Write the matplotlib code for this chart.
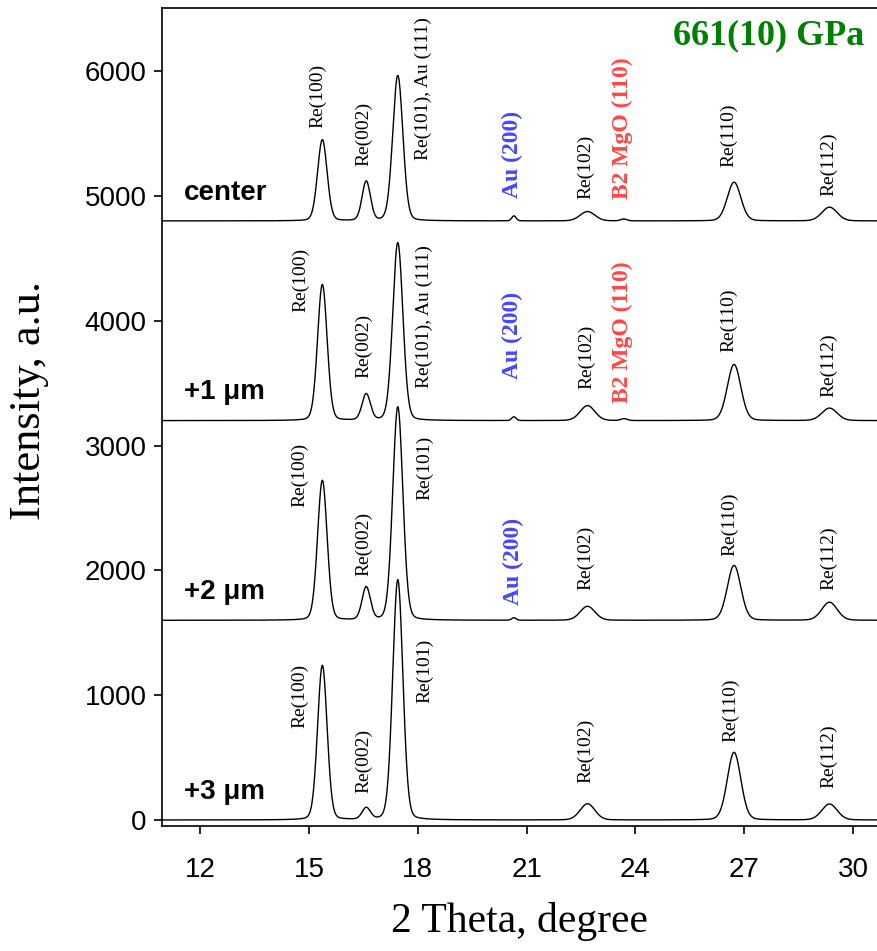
import numpy as np
import matplotlib.pyplot as plt

# peak list (2 theta positions, widths) shared by all four patterns
peak_names = ["Re(100)", "Re(002)", "Re(101)", "Au(200)", "Re(102)",
              "B2 MgO(110)", "Re(110)", "Re(112)"]
peak_pos = [15.37, 16.58, 17.45, 20.65, 22.68, 23.68, 26.72, 29.35]
peak_fwhm = [0.31, 0.27, 0.33, 0.14, 0.48, 0.20, 0.44, 0.50]

# peak heights above baseline
heights_center = [650, 315, 1165, 40, 75, 15, 310, 110]
heights_1um = [1090, 210, 1425, 30, 120, 15, 450, 100]
heights_2um = [1120, 262, 1710, 20, 112, 0, 440, 145]
heights_3um = [1238, 92, 1925, 0, 130, 0, 542, 128]

trace_heights = [heights_center, heights_1um, heights_2um, heights_3um]
trace_offsets = [4800, 3200, 1600, 0]
trace_labels = ["center", "+1 \u03bcm", "+2 \u03bcm", "+3 \u03bcm"]

pressure_label = "661(10) GPa"

x_ticks = [12, 15, 18, 21, 24, 27, 30]
y_ticks = [0, 1000, 2000, 3000, 4000, 5000, 6000]

BLUE = "#4646ff"
RED = "#ff4646"
GREEN = "#008000"

# (text, x, y, color, bold) annotations for the peaks
peak_annotations = [
    # center
    ("Re(100)", 15.25, 5545, "black", False),
    ("Re(002)", 16.50, 5240, "black", False),
    ("Re(101), Au (111)", 18.15, 5290, "black", False),
    ("Au (200)", 20.62, 4985, BLUE, True),
    ("Re(102)", 22.64, 4975, "black", False),
    ("B2 MgO (110)", 23.65, 4975, RED, True),
    ("Re(110)", 26.58, 5230, "black", False),
    ("Re(112)", 29.33, 5000, "black", False),
    # +1 um
    ("Re(100)", 14.78, 4070, "black", False),
    ("Re(002)", 16.50, 3545, "black", False),
    ("Re(101), Au (111)", 18.18, 3465, "black", False),
    ("Au (200)", 20.62, 3530, BLUE, True),
    ("Re(102)", 22.66, 3450, "black", False),
    ("B2 MgO (110)", 23.65, 3340, RED, True),
    ("Re(110)", 26.58, 3750, "black", False),
    ("Re(112)", 29.33, 3390, "black", False),
    # +2 um
    ("Re(100)", 14.76, 2510, "black", False),
    ("Re(002)", 16.50, 1955, "black", False),
    ("Re(101)", 18.18, 2565, "black", False),
    ("Au (200)", 20.65, 1725, BLUE, True),
    ("Re(102)", 22.62, 1845, "black", False),
    ("Re(110)", 26.60, 2115, "black", False),
    ("Re(112)", 29.33, 1845, "black", False),
    # +3 um
    ("Re(100)", 14.74, 737, "black", False),
    ("Re(002)", 16.50, 216, "black", False),
    ("Re(101)", 18.18, 937, "black", False),
    ("Re(102)", 22.64, 296, "black", False),
    ("Re(110)", 26.62, 625, "black", False),
    ("Re(112)", 29.33, 256, "black", False),
]


def pattern(two_theta, heights, offset, eta=0.12):
    y = np.full_like(two_theta, float(offset))
    for pos, fwhm, h in zip(peak_pos, peak_fwhm, heights):
        d = (two_theta - pos) / (fwhm / 2.0)
        gauss = np.exp(-np.log(2) * d ** 2)
        lorentz = 1.0 / (1.0 + d ** 2)
        y += h * ((1 - eta) * gauss + eta * lorentz)
    return y


serif = ["Liberation Serif", "DejaVu Serif"]
sans = ["Liberation Sans", "DejaVu Sans"]

fig = plt.figure(figsize=(8.77, 9.51), dpi=100)
ax = fig.add_axes([162 / 877, 125 / 951, 715 / 877, 818 / 951])

two_theta = np.linspace(10.9, 30.8, 3000)
for heights, offset in zip(trace_heights, trace_offsets):
    ax.plot(two_theta, pattern(two_theta, heights, offset), color="black", linewidth=1.0)

for label, offset in zip(trace_labels, trace_offsets):
    ax.text(11.55, offset + 170, label, fontsize=20, fontweight="bold",
            family=sans, ha="left", va="baseline")

for text, x, y, color, bold in peak_annotations:
    ax.text(x, y, text, rotation=90, ha="center", va="bottom", color=color,
            family=serif, fontsize=17 if bold else 14,
            fontweight="bold" if bold else "normal")

ax.text(0.983, 0.955, pressure_label, transform=ax.transAxes, ha="right", va="baseline",
        color=GREEN, fontsize=26, fontweight="bold", family=serif)

ax.set_xlim(10.95, 30.66)
ax.set_ylim(-48, 6506)
ax.set_xticks(x_ticks)
ax.set_yticks(y_ticks)
ax.spines["right"].set_visible(False)
for side in ["left", "top", "bottom"]:
    ax.spines[side].set_linewidth(1.2)
ax.tick_params(axis="x", direction="out", length=6, width=1.2, pad=16, labelsize=20)
ax.tick_params(axis="y", direction="out", length=6, width=1.2, pad=5, labelsize=20)
for lab in ax.get_xticklabels() + ax.get_yticklabels():
    lab.set_family(sans)

ax.set_xlabel("2 Theta, degree", family=serif, fontsize=30, labelpad=14)
ax.set_ylabel("Intensity, a.u.", family=serif, fontsize=32)
ax.yaxis.set_label_coords(-0.158, 0.52)

fig.savefig("out.png", dpi=100)
